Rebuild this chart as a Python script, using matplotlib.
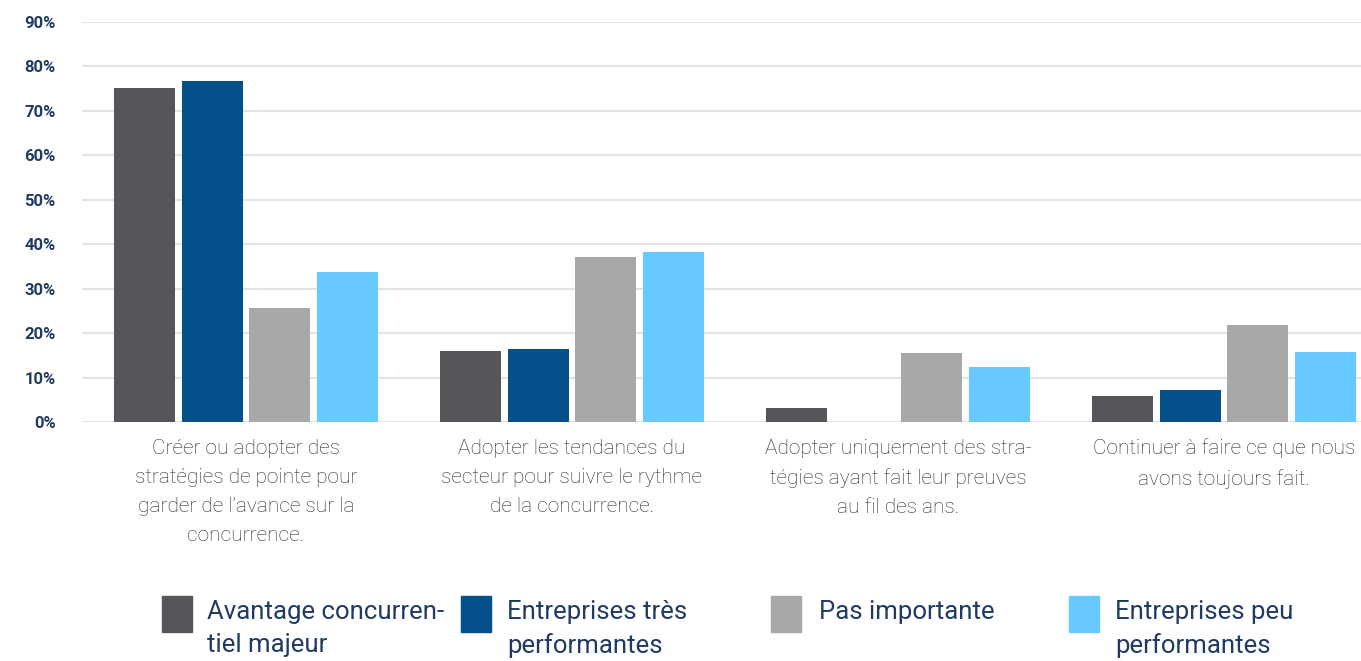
import matplotlib
matplotlib.use("Agg")
import matplotlib.pyplot as plt
from matplotlib.patches import Rectangle
import numpy as np

categories = [
    "Créer ou adopter des\nstratégies de pointe pour\ngarder de l’avance sur la\nconcurrence.",
    "Adopter les tendances du\nsecteur pour suivre le rythme\nde la concurrence.",
    "Adopter uniquement des stra-\ntégies ayant fait leur preuves\nau fil des ans.",
    "Continuer à faire ce que nous\navons toujours fait.",
]
series_labels = [
    "Avantage concurren-\ntiel majeur",
    "Entreprises très\nperformantes",
    "Pas importante",
    "Entreprises peu\nperformantes",
]
avantage = [75.2, 16.0, 3.2, 5.9]
tres_perf = [76.7, 16.4, 0.0, 7.2]
pas_importante = [25.6, 37.2, 15.5, 21.8]
peu_perf = [33.7, 38.3, 12.4, 15.8]
yticks = [0, 10, 20, 30, 40, 50, 60, 70, 80, 90]
ytick_labels = [f"{v}%" for v in yticks]

colors = ["#545659", "#03508a", "#a8a8a8", "#66c9ff"]
series = [avantage, tres_perf, pas_importante, peu_perf]

W, H = 1361, 661
fig = plt.figure(figsize=(W / 100, H / 100), dpi=100)
ax_left = 82 / W
ax_bottom = 1 - 422 / H
ax_top = 1 - 22 / H
ax = fig.add_axes([ax_left, ax_bottom, 1.0 - ax_left, ax_top - ax_bottom])

x = np.arange(len(categories))
step = 0.207
width = 0.187
offsets = (np.arange(4) - 1.5) * step
for s, vals in enumerate(series):
    ax.bar(x + offsets[s], vals, width=width, color=colors[s], zorder=3)

ax.set_ylim(0, 90)
ax.set_xlim(-0.503, (W - 246) / 326)
ax.set_yticks(yticks)
ax.set_yticklabels(ytick_labels, fontfamily="Roboto", fontweight="bold",
                   fontsize=12, color="#1f3b63")
ax.set_xticks(x)
ax.set_xticklabels(categories, fontfamily="Roboto", fontweight="light",
                   fontsize=15, color="#2a2a2a", linespacing=1.68)
ax.tick_params(axis="y", length=0, pad=19)
ax.tick_params(axis="x", length=0, pad=12)
ax.grid(axis="y", color="#e3e3e3", linewidth=1.5, zorder=0)
ax.set_axisbelow(True)
for sp in ax.spines.values():
    sp.set_visible(False)

# legend (manual layout)
patch_x = [162, 461, 771, 1069]
text_x = [207, 507, 819, 1115]
for i, lab in enumerate(series_labels):
    fig.patches.append(Rectangle((patch_x[i] / W, 1 - 632 / H), 30 / W, 36 / H,
                                 transform=fig.transFigure, color=colors[i]))
    fig.text(text_x[i] / W, 1 - 600 / H, lab, ha="left", va="top",
             fontfamily="Roboto", fontsize=18.5, color="#1f3b63",
             linespacing=1.45)

fig.savefig("out.png", dpi=100)
